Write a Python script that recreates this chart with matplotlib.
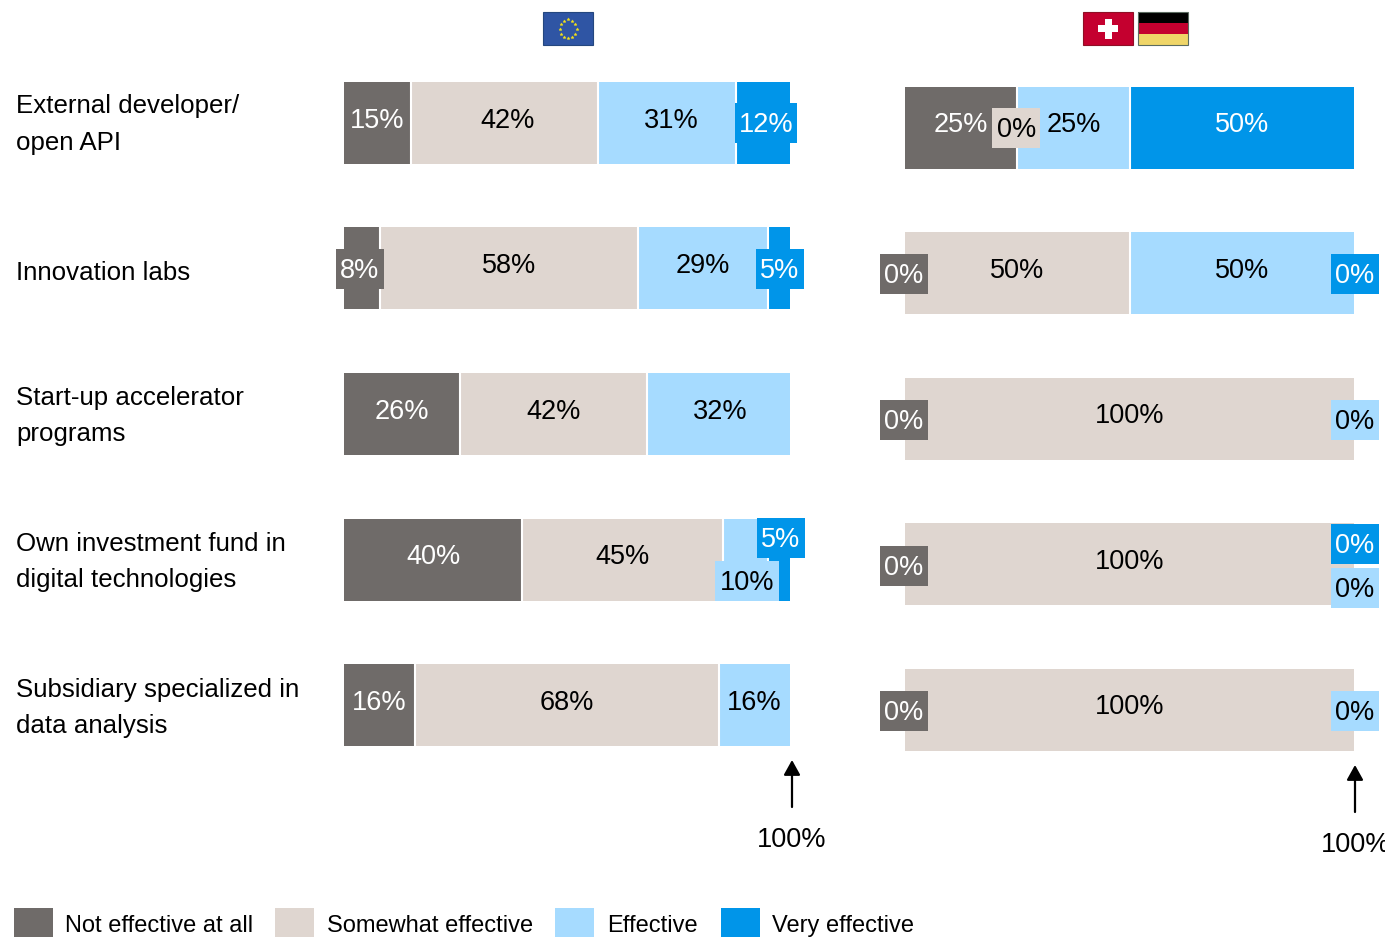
import matplotlib
matplotlib.use('Agg')
import matplotlib.pyplot as plt
from matplotlib.patches import Rectangle
import numpy as np

plt.rcParams['font.family'] = ['Liberation Sans', 'DejaVu Sans']

W, H = 1385, 938
GREY = '#6f6b69'
BEIGE = '#dfd6d0'
LIGHT = '#a6dbff'
BLUE = '#0095e9'
COLORS = [GREY, BEIGE, LIGHT, BLUE]
TEXT_COLORS = ['white', 'black', 'black', 'white']

categories = ['External developer/\nopen API', 'Innovation labs',
              'Start-up accelerator\nprograms',
              'Own investment fund in\ndigital technologies',
              'Subsidiary specialized in\ndata analysis']
levels = ['Not effective at all', 'Somewhat effective', 'Effective', 'Very effective']

# share of answers per row, in the order of levels; None = no label
eu_values = [[15, 42, 31, 12],
             [8, 58, 29, 5],
             [26, 42, 32, None],
             [40, 45, 10, 5],
             [16, 68, 16, None]]
ch_de_values = [[25, 0, 25, 50],
                [0, 50, 50, 0],
                [0, 100, 0, None],
                [0, 100, 0, 0],
                [0, 100, 0, None]]

# label nudges in pixels, (row, level) -> (dx, dy)
eu_nudge = {(0, 1): (3, 0), (0, 2): (4, 0), (0, 3): (3, 4.5), (1, 0): (-2, 5.5),
            (1, 3): (1, 5.5), (2, 2): (2, 0),
            (3, 2): (2, 25.5), (3, 3): (2, -17.5)}
ch_nudge = {(0, 1): (-1, 4.5), (1, 0): (-1, 5), (1, 3): (1, 5),
            (2, 0): (-1, 5.5), (2, 2): (1, 6), (3, 0): (-1, 6),
            (3, 2): (1, 28), (3, 3): (1, -16), (4, 0): (-1, 5.5), (4, 2): (1, 6)}
# boxed labels sit on top of neighbouring segments, value = box width in pixels
eu_boxed = {(0, 3): 62, (1, 0): 48, (1, 3): 48, (3, 2): 64, (3, 3): 48}
ch_boxed = {(0, 1): 48, (1, 0): 48, (1, 3): 48, (2, 0): 48, (2, 2): 48,
            (3, 0): 48, (3, 2): 48, (3, 3): 48, (4, 0): 48, (4, 2): 48}

fig = plt.figure(figsize=(W / 100, H / 100), dpi=100, facecolor='white')


def px_axes(x0, x1, y0, y1):
    return fig.add_axes([x0 / W, 1 - y1 / H, (x1 - x0) / W, (y1 - y0) / H])


def draw_panel(x0, x1, top_center, values, nudge, boxed):
    step = 145.5
    y0, y1 = top_center - 73, top_center + 4 * step + 73
    ax = px_axes(x0, x1, y0, y1)
    ax.set_xlim(0, 100)
    ax.set_ylim(4 + 73 / step, -73 / step)
    ax.axis('off')
    for row, vals in enumerate(values):
        left = 0
        for level, v in enumerate(vals):
            if v is None:
                continue
            ax.barh(row, v, left=left, height=82 / step, color=COLORS[level], linewidth=0)
            if 0 < left < 100 and v > 0:
                ax.plot([left, left], [row - 0.285, row + 0.285], color='white', lw=1.5,
                        solid_capstyle='butt', zorder=3)
            dx, dy = nudge.get((row, level), (0, 0))
            ax.annotate(f'{v}%', xy=(left + v / 2, row), xytext=(dx * 0.72, (2.5 - dy) * 0.72),
                        textcoords='offset points', ha='center', va='center',
                        color=TEXT_COLORS[level], fontsize=19.5, annotation_clip=False,
                        zorder=6)
            box_w = boxed.get((row, level))
            if box_w:
                cx = left + v / 2 + dx / (x1 - x0) * 100
                cy = row + (dy - 4.5) / step
                half = box_w / 2 / (x1 - x0) * 100
                ax.add_patch(Rectangle((cx - half, cy - 20 / step), 2 * half, 40 / step,
                                       facecolor=COLORS[level], linewidth=0, zorder=5,
                                       clip_on=False))
            left += v
    return ax


draw_panel(344, 790, 123, eu_values, eu_nudge, eu_boxed)
draw_panel(905, 1354, 127.5, ch_de_values, ch_nudge, ch_boxed)

# everything else is placed in pixel coordinates
over = px_axes(0, W, 0, H)
over.set_xlim(0, W)
over.set_ylim(H, 0)
over.axis('off')
over.patch.set_alpha(0)

label_y = [124.5, 272.5, 416, 562, 708]
for name, y in zip(categories, label_y):
    over.text(16, y, name, ha='left', va='center', fontsize=18.6, linespacing=1.65)

# flags
over.add_patch(Rectangle((543, 12), 50, 33, facecolor='#2f55a4', edgecolor='#24477f', lw=0.8))
angles = np.deg2rad(np.arange(0, 360, 30))
over.scatter(568 + 8.5 * np.cos(angles), 29 + 9.5 * np.sin(angles), s=5, marker='*',
             color='#f4e21a', linewidths=0.3)

over.add_patch(Rectangle((1083, 12), 50, 33, facecolor='#c4002f', edgecolor='#8f0f25', lw=0.8))
over.add_patch(Rectangle((1104.5, 19), 7, 20, facecolor='white', lw=0))
over.add_patch(Rectangle((1098, 25.5), 20, 7, facecolor='white', lw=0))
for y, h, c in [(12, 11, 'black'), (23, 11, '#c4002f'), (34, 11, '#efd568')]:
    over.add_patch(Rectangle((1137.5, y), 50, h, facecolor=c, lw=0))
over.add_patch(Rectangle((1137.5, 12), 50, 33, fill=False, edgecolor='#5b6b60', lw=0.8))

# 100% arrows
for ax_x, y_tip, tx in [(792, 760, 792), (1355, 765, 1356)]:
    over.annotate('', xy=(ax_x, y_tip), xytext=(ax_x, y_tip + 47),
                  arrowprops=dict(arrowstyle='-|>,head_width=0.5,head_length=0.9', color='black',
                                  lw=1.6, shrinkA=0, shrinkB=0))
    over.text(tx, y_tip + 80, '100%', ha='center', va='center', fontsize=19.5, clip_on=False)

# legend row
swatch_x = [14, 275, 555, 721]
text_x = [65, 327, 607, 772]
for x, tx, c, name in zip(swatch_x, text_x, COLORS, levels):
    over.add_patch(Rectangle((x, 908), 39, 29, facecolor=c, lw=0))
    over.text(tx, 926, name, ha='left', va='center', fontsize=17)

fig.savefig('out.png', dpi=100, facecolor='white')
